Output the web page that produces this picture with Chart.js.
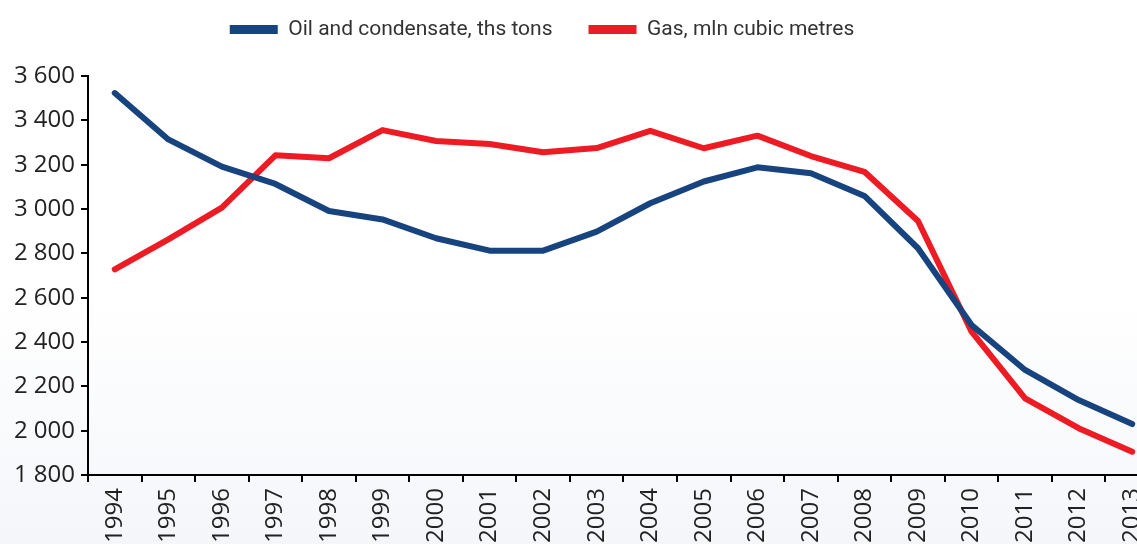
<!DOCTYPE html>
<html>
<head>
<meta charset="utf-8">
<script src="https://cdn.jsdelivr.net/npm/chart.js@4/dist/chart.umd.min.js"></script>
<style>
  html, body { margin: 0; padding: 0; overflow: hidden; width: 1137px; height: 544px;
    background: linear-gradient(to bottom, #ffffff 0%, #ffffff 55%, #f4f6fa 100%); }
  #wrap { position: relative; width: 1167px; height: 544px; }
</style>
</head>
<body>
<div id="wrap"><canvas id="c"></canvas></div>
<script>
const years = ['1994','1995','1996','1997','1998','1999','2000','2001','2002','2003','2004','2005','2006','2007','2008','2009','2010','2011','2012','2013'];
const oilCondensate = [3523, 3314, 3191, 3113, 2991, 2953, 2868, 2812, 2812, 2898, 3026, 3124, 3188, 3161, 3059, 2823, 2477, 2274, 2138, 2030];
const gas = [2728, 2863, 3006, 3242, 3229, 3356, 3307, 3293, 3256, 3275, 3352, 3274, 3331, 3239, 3168, 2946, 2447, 2146, 2011, 1905];
const seriesNames = ['Oil and condensate, ths tons', 'Gas, mln cubic metres'];
const yMin = 1800, yMax = 3600, yStep = 200;

const legendShift = {
  id: 'legendShift',
  afterLayout(chart) {
    const l = chart.legend;
    if (!l) return;
    const dx = 542 - (l.left + l.right) / 2;
    l.left += dx; l.right += dx;
    const dy = -26;
    l.top += dy; l.bottom += dy;
  }
};

new Chart(document.getElementById('c'), {
  type: 'line',
  data: {
    labels: years,
    datasets: [
      { label: seriesNames[0], data: oilCondensate, borderColor: '#17437f', backgroundColor: '#17437f',
        borderWidth: 6, pointRadius: 0, tension: 0, borderCapStyle: 'round', borderJoinStyle: 'round' },
      { label: seriesNames[1], data: gas, borderColor: '#ed1c24', backgroundColor: '#ed1c24',
        borderWidth: 6, pointRadius: 0, tension: 0, borderCapStyle: 'round', borderJoinStyle: 'round' }
    ]
  },
  options: {
    responsive: true,
    maintainAspectRatio: false,
    animation: false,
    layout: { padding: { top: 9, right: 0, bottom: 0, left: 0 } },
    plugins: {
      legend: {
        display: true,
        position: 'top',
        labels: {
          boxWidth: 48, boxHeight: 9, padding: 36,
          color: '#333333',
          font: { family: 'Roboto', size: 21 },
          generateLabels(chart) {
            return Chart.defaults.plugins.legend.labels.generateLabels(chart)
              .map(item => Object.assign(item, { lineWidth: 0 }));
          }
        }
      },
      tooltip: { enabled: false }
    },
    scales: {
      x: {
        offset: true,
        afterFit(scale) { scale.height = 69; },
        grid: { display: true, drawOnChartArea: false, drawTicks: true, tickLength: 7, offset: true,
                color: '#000', lineWidth: 2 },
        border: { display: true, color: '#000', width: 2 },
        ticks: { minRotation: 90, maxRotation: 90, autoSkip: false, padding: 6,
                 color: '#222', font: { family: 'Open Sans', size: 24 } }
      },
      y: {
        min: yMin, max: yMax,
        afterFit(scale) { scale.width = 88; },
        grid: { display: true, drawOnChartArea: false, drawTicks: true, tickLength: 7,
                color: '#000', lineWidth: 2 },
        border: { display: true, color: '#000', width: 2 },
        ticks: { stepSize: yStep, padding: 6, color: '#222', font: { family: 'Open Sans', size: 24 },
                 callback: (v) => String(v).replace(/\B(?=(\d{3})+(?!\d))/g, ' ') }
      }
    }
  },
  plugins: [legendShift]
});
</script>
</body>
</html>
